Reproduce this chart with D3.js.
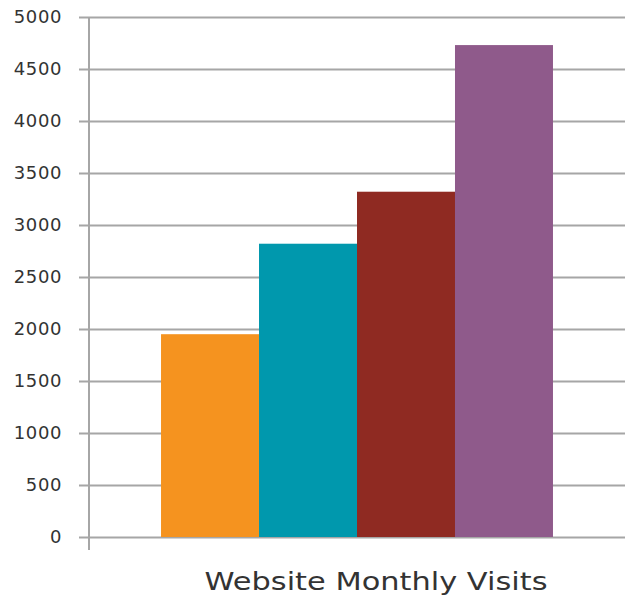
<!DOCTYPE html>
<html>
<head>
<meta charset="utf-8">
<script src="https://cdn.jsdelivr.net/npm/d3@7"></script>
<style>
	body { margin: 0; background: #fff; }
	#graphic text { font-family: "DejaVu Sans", sans-serif; }
</style>
</head>
<body>
<div id="graphic"></div>
<script>
// chart data
const categories = ['Website Monthly Visits'];
const seriesNames = ['A', 'B', 'C', 'D'];
const seriesValues = [1950, 2820, 3320, 4730];
const seriesColours = ['#F5931F', '#0098AD', '#8F2A22', '#8F5A8B'];
const yTicks = [0, 500, 1000, 1500, 2000, 2500, 3000, 3500, 4000, 4500, 5000];

const width = 625, height = 605;
const margin = { top: 17, right: 0, bottom: 68, left: 89 };
const chart_width = width - margin.left - margin.right;
const chart_height = height - margin.top - margin.bottom;

const svg = d3.select('#graphic')
	.append('svg')
	.attr('width', width)
	.attr('height', height)
	.append('g')
	.attr('transform', 'translate(' + margin.left + ',' + margin.top + ')');

const y = d3.scaleLinear().domain([0, 5000]).range([chart_height, 0]);

const x = d3.scaleBand().domain(categories).range([0, chart_width]);

const xInner = d3.scaleBand()
	.domain(seriesNames)
	.range([0, x.bandwidth()])
	.paddingInner(0)
	.paddingOuter(0.735);

// gridlines + y axis ticks
svg.append('g')
	.attr('class', 'y axis')
	.call(
		d3.axisLeft(y)
			.tickValues(yTicks)
			.tickFormat(d3.format('d'))
			.tickSize(-chart_width)
			.tickSizeOuter(0)
			.tickPadding(27)
	)
	.call(g => g.select('.domain').remove())
	.call(g => g.selectAll('.tick line')
		.attr('x1', -10)
		.attr('stroke', '#a6a6a6')
		.attr('stroke-width', 2))
	.call(g => g.selectAll('.tick text')
		.attr('fill', '#333')
		.style('font-size', '18px')
		.style('letter-spacing', '0.6px'));

// vertical axis line
svg.append('line')
	.attr('x1', 0)
	.attr('x2', 0)
	.attr('y1', y(5000))
	.attr('y2', y(0) + 13)
	.attr('stroke', '#a6a6a6')
	.attr('stroke-width', 2);

// bars
const data = seriesNames.map((d, i) => ({ name: d, value: seriesValues[i], colour: seriesColours[i] }));

svg.append('g')
	.selectAll('rect')
	.data(data)
	.join('rect')
	.attr('x', d => x(categories[0]) + xInner(d.name))
	.attr('y', d => y(d.value))
	.attr('width', xInner.bandwidth())
	.attr('height', d => y(0) - y(d.value))
	.attr('fill', d => d.colour);

// category label
svg.append('text')
	.attr('x', 376 - margin.left)
	.attr('y', 590 - margin.top)
	.attr('text-anchor', 'middle')
	.attr('fill', '#333')
	.attr('textLength', 343)
	.attr('lengthAdjust', 'spacingAndGlyphs')
	.style('font-size', '25px')
	.text(categories[0]);
</script>
</body>
</html>
